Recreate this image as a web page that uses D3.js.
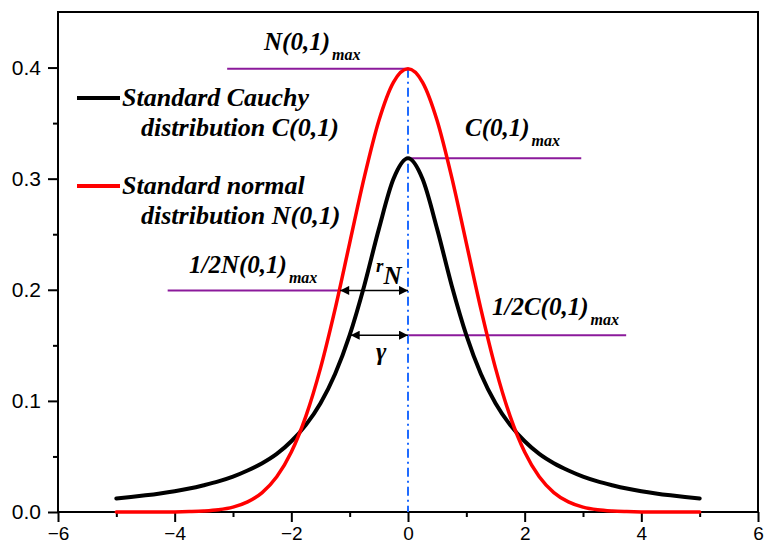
<!DOCTYPE html>
<html>
<head>
<meta charset="utf-8">
<script src="https://cdn.jsdelivr.net/npm/d3@7"></script>
<style>
  body { margin: 0; background: #fff; }
  .tick text { font-family: "Liberation Sans", Arial, sans-serif; font-size: 21px; fill: #000; }
  .x-axis .tick text { font-size: 19px; }
  .note { font-family: "Liberation Serif", "Times New Roman", serif; font-weight: bold; font-style: italic; fill: #000; }
</style>
</head>
<body>
<div id="chart"></div>
<script>
// x positions of the sampled points
var xValues = [-5, -4.75, -4.5, -4.25, -4, -3.75, -3.5, -3.25, -3, -2.75, -2.5, -2.25, -2, -1.75, -1.5, -1.25, -1, -0.75, -0.5, -0.25,
  0, 0.25, 0.5, 0.75, 1, 1.25, 1.5, 1.75, 2, 2.25, 2.5, 2.75, 3, 3.25, 3.5, 3.75, 4, 4.25, 4.5, 4.75, 5];

// Standard Cauchy C(0,1)
var cauchyValues = [0.0122, 0.0135, 0.0150, 0.0167, 0.0187, 0.0211, 0.0241, 0.0275, 0.0318, 0.0373, 0.0439, 0.0523, 0.0637, 0.0784, 0.0979, 0.1242, 0.1592, 0.2037, 0.2546, 0.2996,
  0.3183, 0.2996, 0.2546, 0.2037, 0.1592, 0.1242, 0.0979, 0.0784, 0.0637, 0.0523, 0.0439, 0.0373, 0.0318, 0.0275, 0.0241, 0.0211, 0.0187, 0.0167, 0.0150, 0.0135, 0.0122];

// Standard normal N(0,1)
var normalValues = [0, 0, 0, 0, 0.0001, 0.0004, 0.0009, 0.0020, 0.0044, 0.0091, 0.0175, 0.0317, 0.0540, 0.0863, 0.1295, 0.1826, 0.2420, 0.3011, 0.3521, 0.3867,
  0.3989, 0.3867, 0.3521, 0.3011, 0.2420, 0.1826, 0.1295, 0.0863, 0.0540, 0.0317, 0.0175, 0.0091, 0.0044, 0.0020, 0.0009, 0.0004, 0.0001, 0, 0, 0, 0];

var xTicks = [-6, -4, -2, 0, 2, 4, 6];
var xMinor = [-5, -3, -1, 1, 3, 5];
var yTicks = [0, 0.1, 0.2, 0.3, 0.4];
var yMinor = [0.05, 0.15, 0.25, 0.35];

var legendNames = [["Standard Cauchy", "distribution C(0,1)"], ["Standard normal", "distribution N(0,1)"]];
var colours = ["#000000", "#ff0000"];

// half widths at half maximum
var rN = 1.18;
var gamma = 1;

var width = 764, height = 547;
var margins = { top: 12, right: 6, bottom: 35, left: 58 };

var svg = d3.select("#chart").append("svg")
  .attr("width", width)
  .attr("height", height);

var scaleX = d3.scaleLinear().domain([-6, 6]).range([margins.left, width - margins.right]);
var scaleY = d3.scaleLinear().domain([0, 0.45]).range([height - margins.bottom, margins.top]);

var nMax = d3.max(normalValues);
var cMax = d3.max(cauchyValues);

// arrow heads
var defs = svg.append("defs");
defs.append("marker")
  .attr("id", "arrow")
  .attr("viewBox", "0 0 10 10")
  .attr("refX", 10).attr("refY", 5)
  .attr("markerWidth", 14).attr("markerHeight", 9)
  .attr("markerUnits", "userSpaceOnUse")
  .attr("orient", "auto-start-reverse")
  .append("path")
  .attr("d", "M0,0 L10,5 L0,10 Z")
  .attr("fill", "#000");

// axes
svg.append("g")
  .attr("class", "x-axis")
  .attr("transform", "translate(0," + scaleY(0) + ")")
  .call(d3.axisBottom(scaleX).tickValues(xTicks).tickSize(10).tickPadding(5).tickFormat(d3.format("d")));
svg.append("g")
  .attr("transform", "translate(0," + scaleY(0) + ")")
  .call(d3.axisBottom(scaleX).tickValues(xMinor).tickSize(5).tickFormat(""));

svg.append("g")
  .attr("class", "y-axis")
  .attr("transform", "translate(" + scaleX(-6) + ",0)")
  .call(d3.axisLeft(scaleY).tickValues(yTicks).tickSize(10).tickPadding(7).tickFormat(d3.format(".1f")));
svg.append("g")
  .attr("transform", "translate(" + scaleX(-6) + ",0)")
  .call(d3.axisLeft(scaleY).tickValues(yMinor).tickSize(5).tickFormat(""));

svg.selectAll(".domain").remove();
svg.selectAll(".tick line").attr("stroke", "#000").attr("stroke-width", 2);

// frame
svg.append("rect")
  .attr("x", scaleX(-6)).attr("y", scaleY(0.45))
  .attr("width", scaleX(6) - scaleX(-6))
  .attr("height", scaleY(0) - scaleY(0.45))
  .attr("fill", "none")
  .attr("stroke", "#000")
  .attr("stroke-width", 2);

// guide lines
var purple = "#8b1a9b";
var guides = [
  { y: nMax, x0: -3.1, x1: 0 },
  { y: cMax, x0: 0, x1: 2.97 },
  { y: nMax / 2, x0: -4.12, x1: -rN },
  { y: cMax / 2, x0: 0, x1: 3.74 }
];
svg.selectAll("line.guide")
  .data(guides)
  .enter().append("line")
  .attr("class", "guide")
  .attr("x1", function (d) { return scaleX(d.x0); })
  .attr("x2", function (d) { return scaleX(d.x1); })
  .attr("y1", function (d) { return scaleY(d.y); })
  .attr("y2", function (d) { return scaleY(d.y); })
  .attr("stroke", purple)
  .attr("stroke-width", 2);

// dash-dot centre line
svg.append("line")
  .attr("x1", scaleX(0)).attr("x2", scaleX(0))
  .attr("y1", scaleY(nMax)).attr("y2", scaleY(0))
  .attr("stroke", "#1f6bff")
  .attr("stroke-width", 2)
  .attr("stroke-dasharray", "9,4,2,4");

// curves
var line = d3.line()
  .x(function (d) { return scaleX(d[0]); })
  .y(function (d) { return scaleY(d[1]); })
  .curve(d3.curveMonotoneX);

var series = [cauchyValues, normalValues].map(function (vals) {
  return xValues.map(function (x, i) { return [x, vals[i]]; });
});

svg.selectAll("path.curve")
  .data(series)
  .enter().append("path")
  .attr("class", "curve")
  .attr("d", line)
  .attr("fill", "none")
  .attr("stroke", function (d, i) { return colours[i]; })
  .attr("stroke-width", function (d, i) { return i === 0 ? 4 : 3.5; })
  .attr("stroke-linecap", "round");

// double arrows
var arrows = [
  { y: nMax / 2, x0: -rN, x1: 0 },
  { y: cMax / 2, x0: -gamma, x1: 0 }
];
svg.selectAll("line.arrow")
  .data(arrows)
  .enter().append("line")
  .attr("class", "arrow")
  .attr("x1", function (d) { return scaleX(d.x0) + 1; })
  .attr("x2", function (d) { return scaleX(d.x1); })
  .attr("y1", function (d) { return scaleY(d.y); })
  .attr("y2", function (d) { return scaleY(d.y); })
  .attr("stroke", "#000")
  .attr("stroke-width", 1.5)
  .attr("marker-start", "url(#arrow)")
  .attr("marker-end", "url(#arrow)");

// legend
var legend = svg.append("g").selectAll("g")
  .data(legendNames)
  .enter().append("g")
  .attr("transform", function (d, i) { return "translate(0," + (i * 88) + ")"; });

legend.append("line")
  .attr("x1", 77).attr("x2", 120)
  .attr("y1", 98).attr("y2", 98)
  .attr("stroke", function (d, i) { return colours[i]; })
  .attr("stroke-width", 4);

legend.append("text")
  .attr("class", "note")
  .attr("x", 122).attr("y", 106)
  .style("font-size", "26px")
  .text(function (d) { return d[0]; });

legend.append("text")
  .attr("class", "note")
  .attr("x", 141).attr("y", 136)
  .style("font-size", "26px")
  .text(function (d) { return d[1]; });

// annotation labels
var notes = [
  { x: 264, y: 50, main: "N(0,1)" },
  { x: 465, y: 136, main: "C(0,1)" },
  { x: 189, y: 273, main: "1/2N(0,1)" },
  { x: 492, y: 315, main: "1/2C(0,1)" }
];
var noteText = svg.selectAll("text.max")
  .data(notes)
  .enter().append("text")
  .attr("class", "note max")
  .attr("x", function (d) { return d.x; })
  .attr("y", function (d) { return d.y; })
  .style("font-size", "25px");
noteText.append("tspan").text(function (d) { return d.main; });
noteText.append("tspan")
  .attr("dx", 2).attr("dy", 10)
  .style("font-size", "16px")
  .text("max");

var rText = svg.append("text").attr("class", "note")
  .attr("x", 376).attr("y", 272);
rText.append("tspan").style("font-size", "19px").text("r");
rText.append("tspan").attr("dy", 12).style("font-size", "25px").text("N");

svg.append("text").attr("class", "note")
  .attr("x", 376).attr("y", 360)
  .style("font-size", "25px")
  .text("γ");
</script>
</body>
</html>
